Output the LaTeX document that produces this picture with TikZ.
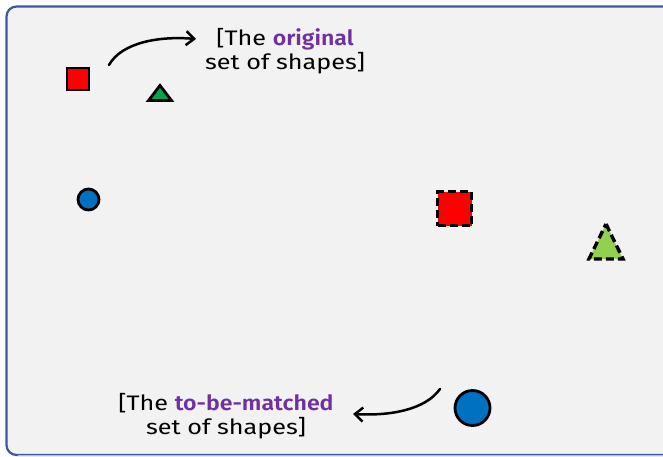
\documentclass[tikz,border=0pt]{standalone}
\usepackage{fontspec}
\newfontfamily\hand[FakeStretch=1.2]{Fira Sans}
\usetikzlibrary{arrows.meta}
\definecolor{bg}{HTML}{F2F2F2}
\definecolor{frameblue}{HTML}{3A5A9A}
\definecolor{lightframe}{HTML}{9DC3E6}
\definecolor{sqred}{HTML}{FF0000}
\definecolor{trigreen}{HTML}{00A550}
\definecolor{lgreen}{HTML}{92D050}
\definecolor{cblue}{HTML}{0070C0}
\definecolor{purp}{HTML}{7030A0}
\tikzset{
  shapeline/.style={draw=black, line width=2.8pt, line join=miter},
  dashline/.style={draw=black, line width=3.4pt, dash pattern=on 8pt off 4pt},
  conn/.style={draw=black, line width=2.5pt, line cap=round, -{Straight Barb[length=8pt,width=14pt,line width=2.5pt]}},
  lbl/.style={font=\hand\fontsize{21}{24}\selectfont, align=center, text=black, inner sep=0pt}
}
\newcommand{\hlword}[1]{\textcolor{purp}{\fontspec{Fira Sans SemiBold}[FakeStretch=1.1]#1}}
\begin{document}
\begin{tikzpicture}[x=1pt,y=-1pt]
\useasboundingbox (0,0) rectangle (663,457);
\fill[white] (0,0) rectangle (663,457);
% frame
\filldraw[fill=bg, draw=frameblue, line width=2.2pt, rounded corners=10pt] (6.5,6.5) rectangle (690,455);
\draw[lightframe, line width=1.5pt] (18,455.5) -- (663,455.5);

% original shapes
\node[shapeline, fill=sqred, minimum size=22pt, inner sep=0pt, rectangle] (sq1) at (78,79) {};
\path[shapeline, fill=trigreen] (160,85.5) -- (171.5,100.5) -- (148.5,100.5) -- cycle;
\coordinate (tri1) at (160,95);
\node[shapeline, fill=cblue, circle, minimum size=21pt, inner sep=0pt] (c1) at (88.5,199.5) {};

% matched shapes
\node[dashline, fill=sqred, minimum size=34pt, inner sep=0pt, rectangle] (sq2) at (454.5,208.5) {};
\path[dashline, fill=lgreen] (606,224) -- (623,259) -- (589,259) -- cycle;
\coordinate (tri2) at (606,245);
\node[shapeline, fill=cblue, circle, minimum size=35pt, inner sep=0pt] (c2) at (472.5,408) {};

% labels
\node[lbl] (t1) at (285,51) {[The \hlword{original}\\set of shapes]};
\node[lbl] (t2) at (226,416) {[The \hlword{to-be-matched}\\set of shapes]};

% connectors
\coordinate (a1s) at (109,65);
\coordinate (a1e) at (196,39);
\draw[conn] (a1s) .. controls (122,42) and (160,36) .. (a1e);
\coordinate (a2s) at (440,389);
\coordinate (a2e) at (353,414);
\draw[conn] (a2s) .. controls (425,410) and (390,416) .. (a2e);
\end{tikzpicture}
\end{document}
